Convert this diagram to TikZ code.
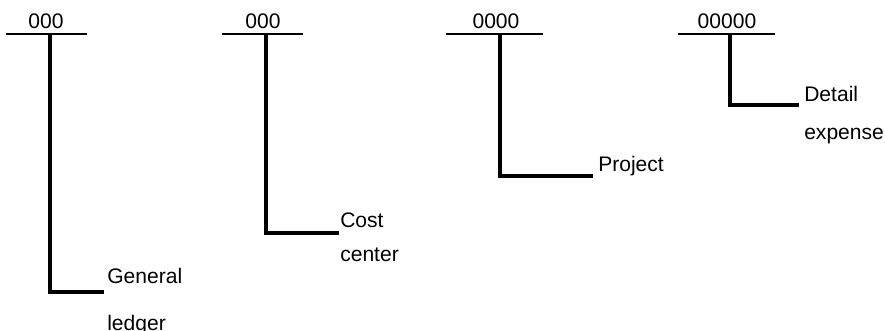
\documentclass[tikz,border=0pt]{standalone}
\usepackage{fontspec}
\setmainfont{Liberation Sans}
\usetikzlibrary{positioning}
\tikzset{
  segment rule/.style={line width=1pt},
  field line/.style={line width=2.4pt, line join=miter},
  field label/.style={anchor=base west}
}

\begin{document}
\begin{tikzpicture}[x=0.75pt, y=-0.75pt, every node/.style={font=\fontsize{15.8}{18}\selectfont, inner sep=0pt}]
\useasboundingbox (0,0) rectangle (885,331);
% Segments of the account code
\foreach \n/\xl/\xr/\xc/\code/\xs/\yb/\xe/\xt/\yt/\first in {
    gl/6/87/46/000/50/292/104/107/284/General,
    cc/222/303/263/000/266/233/339/340/228/Cost,
    pr/446/543/496/0000/500/176/593/598/172/Project,
    de/678/775/727/00000/730/105/799/804/102/Detail} {
    \coordinate (\n-l) at (\xl,34);
    \coordinate (\n-r) at (\xr,34);
    \draw[segment rule] (\n-l) -- (\n-r);
    \node[anchor=base] (\n-code) at (\xc,29) {\code};
    \coordinate (\n-top) at (\xs,34);
    \coordinate (\n-end) at (\xe,\yb);
    \draw[field line] (\n-top) |- (\n-end);
    \node[field label] (\n-1) at (\xt,\yt) {\first};
}
% Second lines of the labels
\node[field label] (gl-2) at ([yshift=-34.5pt]gl-1.base west) {ledger};
\node[field label] (cc-2) at ([yshift=-25.5pt]cc-1.base west) {center};
\node[field label] (de-2) at ([yshift=-28.5pt]de-1.base west) {expense};
\end{tikzpicture}
\end{document}
